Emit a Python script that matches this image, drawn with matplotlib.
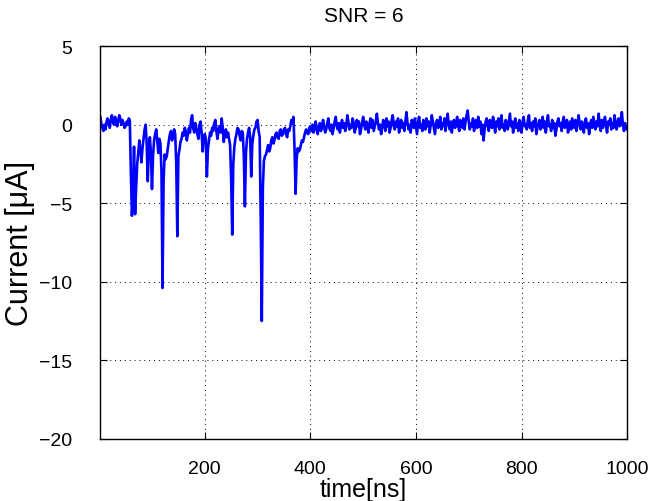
import numpy as np
import matplotlib
matplotlib.use("Agg")
import matplotlib.pyplot as plt

plt.rcParams['font.family'] = ['Liberation Sans', 'DejaVu Sans']

# sample times [ns], one sample every 2 ns
time_ns = np.arange(0, 1001, 2)

# quiet start, 0..58 ns
current_early = [0.3, 0.5, 0.1, -0.2, -0.4, 0.0, -0.3, 0.2, 0.4, 0.1,
                 -0.2, 0.3, 0.6, 0.2, 0.0, 0.5, 0.3, -0.1, 0.2, 0.6,
                 0.4, 0.0, 0.3, 0.1, -0.2, -0.1, 0.2, 0.0, 0.4, 0.3]

# spike region, 60..398 ns
current_spikes = [-3.0, -5.8, -4.5, -1.4, -5.7, -4.0, -2.5, -1.8, -1.0, -1.6,
                  -2.4, -1.5, -0.9, -0.3, 0.0, -1.2, -3.6, -1.5, -0.8, -1.8,
                  -4.1, -2.0, -1.0, -0.6, -0.3, -1.0, -1.8, -0.9, -1.2, -3.0,
                  -10.4, -3.5, -1.9, -2.2, -2.0, -1.5, -1.0, -0.6, -0.4, -1.0,
                  -0.7, -0.3, -0.6, -2.5, -7.1, -2.0, -1.6, -1.1, -0.9, -0.5,
                  -0.7, -0.2, -0.4, -1.0, -0.6, -0.2, -0.5, 0.3, 0.6, -0.2,
                  -0.5, 0.1, -0.2, -0.6, -0.9, 0.0, 0.2, -0.5, -1.7, -0.9,
                  -0.6, -0.9, -3.3, -1.5, -1.0, -0.5, -0.7, -0.2, -0.4, 0.1,
                  0.3, -0.4, -0.9, -0.3, -0.1, -0.5, 0.4, -0.2, -1.1, -0.6,
                  -0.3, -0.8, -0.5, -0.9, -1.3, -3.5, -7.0, -2.5, -1.4, -0.9,
                  -0.6, -0.2, -0.3, -0.7, -1.0, -0.4, -0.5, -2.0, -5.2, -1.8,
                  -0.9, -0.5, -0.2, -0.8, -3.3, -1.2, -0.7, -0.3, -0.2, 0.2,
                  0.3, -0.4, -0.8, -6.0, -12.5, -4.0, -2.3, -2.0, -1.9, -1.6,
                  -1.3, -1.7, -1.5, -1.0, -0.8, -1.2, -1.0, -0.6, -0.5, -0.8,
                  -0.9, -0.4, -0.3, -0.7, -0.6, -0.3, -0.2, -0.6, -0.8, -0.3,
                  -0.4, -0.1, 0.3, 0.1, 0.5, -1.5, -4.4, -2.2, -1.5, -1.7,
                  -1.6, -1.3, -1.0, -1.1, -0.8, -0.5, -0.3, -0.5, -0.6, -0.2]

# settled noise, 400..1000 ns
current_late = [-0.1, -0.4, 0.0, -0.5, -0.2, 0.2, -0.3, -0.6, -0.1, 0.1,
                -0.4, -0.2, 0.3, -0.1, -0.5, -0.3, 0.1, 0.4, -0.2, -0.4,
                0.0, -0.6, -0.2, 0.2, 0.5, -0.1, -0.3, 0.1, -0.5, 0.0,
                0.3, -0.2, 0.1, -0.4, -0.1, 0.6, 0.2, -0.3, 0.0, -0.2,
                0.4, 0.1, -0.5, -0.2, 0.3, -0.1, 0.2, -0.6, -0.3, 0.1,
                0.5, 0.0, -0.3, 0.2, -0.1, -0.5, 0.1, 0.4, -0.2, 0.3,
                -0.4, -0.1, 0.2, 0.7, 0.1, -0.3, 0.0, -0.6, -0.2, 0.3,
                0.1, -0.4, 0.4, -0.1, 0.2, -0.5, -0.2, 0.3, 0.6, -0.1,
                -0.3, 0.2, -0.1, 0.4, -0.5, 0.0, 0.3, -0.2, 0.1, -0.4,
                0.2, 0.8, 0.1, -0.3, 0.0, -0.5, 0.3, 0.1, -0.2, 0.4,
                -0.1, -0.6, 0.2, 0.5, -0.2, 0.0, -0.4, 0.3, 0.1, -0.3,
                0.4, -0.1, 0.2, -0.5, 0.0, 0.6, 0.2, -0.2, -0.6, 0.1,
                0.3, -0.2, 0.0, 0.5, -0.3, 0.1, -0.1, 0.4, -0.4, 0.2,
                0.7, 0.0, -0.3, 0.2, -0.5, 0.1, 0.3, -0.2, 0.0, 0.5,
                -0.1, -0.4, 0.3, 0.1, -0.2, 0.4, -0.3, 0.2, 0.6, 0.9,
                0.2, -0.3, 0.1, -0.1, 0.4, -0.4, 0.0, 0.3, -0.2, 0.5,
                -0.1, 0.2, -0.6, 0.0, -1.0, -0.3, 0.2, 0.4, -0.1, -0.4,
                0.3, 0.0, -0.2, 0.5, 0.1, -0.5, 0.2, -0.1, 0.4, -0.3,
                0.1, 0.6, -0.2, 0.0, -0.4, 0.3, 0.1, -0.3, 0.2, 0.7,
                -0.1, 0.2, -0.5, 0.0, 0.4, -0.2, 0.1, -0.4, 0.3, 0.0,
                -0.5, 0.2, 0.5, -0.1, 0.0, -0.3, 0.3, 0.6, -0.2, 0.1,
                -0.4, 0.2, -0.1, 0.4, -0.6, -0.2, 0.1, 0.3, -0.3, 0.0,
                0.5, -0.2, 0.2, -0.5, 0.1, 0.6, -0.1, 0.0, -0.4, 0.3,
                -0.2, 0.1, -0.7, -0.3, 0.2, 0.4, -0.1, 0.1, -0.4, 0.2,
                0.5, -0.2, 0.0, 0.3, -0.5, -0.1, 0.2, -0.3, 0.4, 0.1,
                -0.2, 0.3, -0.4, 0.0, 0.6, 0.1, -0.3, 0.2, -0.1, -0.5,
                0.2, 0.4, -0.2, 0.1, -0.6, 0.0, 0.3, -0.2, 0.5, 0.1,
                -0.3, 0.2, -0.1, 0.7, 0.0, -0.4, 0.3, -0.2, 0.1, 0.5,
                -0.1, -0.5, 0.2, 0.0, 0.4, -0.3, 0.1, -0.2, 0.6, 0.2,
                -0.3, 0.1, 0.4, -0.1, 0.2, 0.8, 0.0, -0.4, 0.1, -0.2,
                -0.3]

current_uA = np.array(current_early + current_spikes + current_late)

x_ticks = [200, 400, 600, 800, 1000]
y_ticks = [-20, -15, -10, -5, 0, 5]

fig = plt.figure(figsize=(6.56, 5.02), dpi=100)
ax = fig.add_axes([0.152, 0.124, 0.804, 0.782])

ax.plot(time_ns, current_uA, color=(0, 0, 1), linewidth=1.9)

ax.set_xlim(1, 1000)
ax.set_ylim(-20, 5)
ax.set_xticks(x_ticks)
ax.set_yticks(y_ticks)
ax.tick_params(direction='in', top=True, right=True, labelsize=14,
               length=5, width=0.8)
ax.tick_params(axis='x', pad=15)
ax.tick_params(axis='y', pad=20)
ax.grid(True, linestyle=(0, (1, 4)), color='black', linewidth=0.7)
for s in ax.spines.values():
    s.set_linewidth(1.0)

ax.set_title('SNR = 6', fontsize=15, pad=18)
ax.set_xlabel('time[ns]', fontsize=18, labelpad=0)
ax.set_ylabel('Current [\u03bcA]', fontsize=22, labelpad=3)

fig.savefig('out.png', dpi=100)
